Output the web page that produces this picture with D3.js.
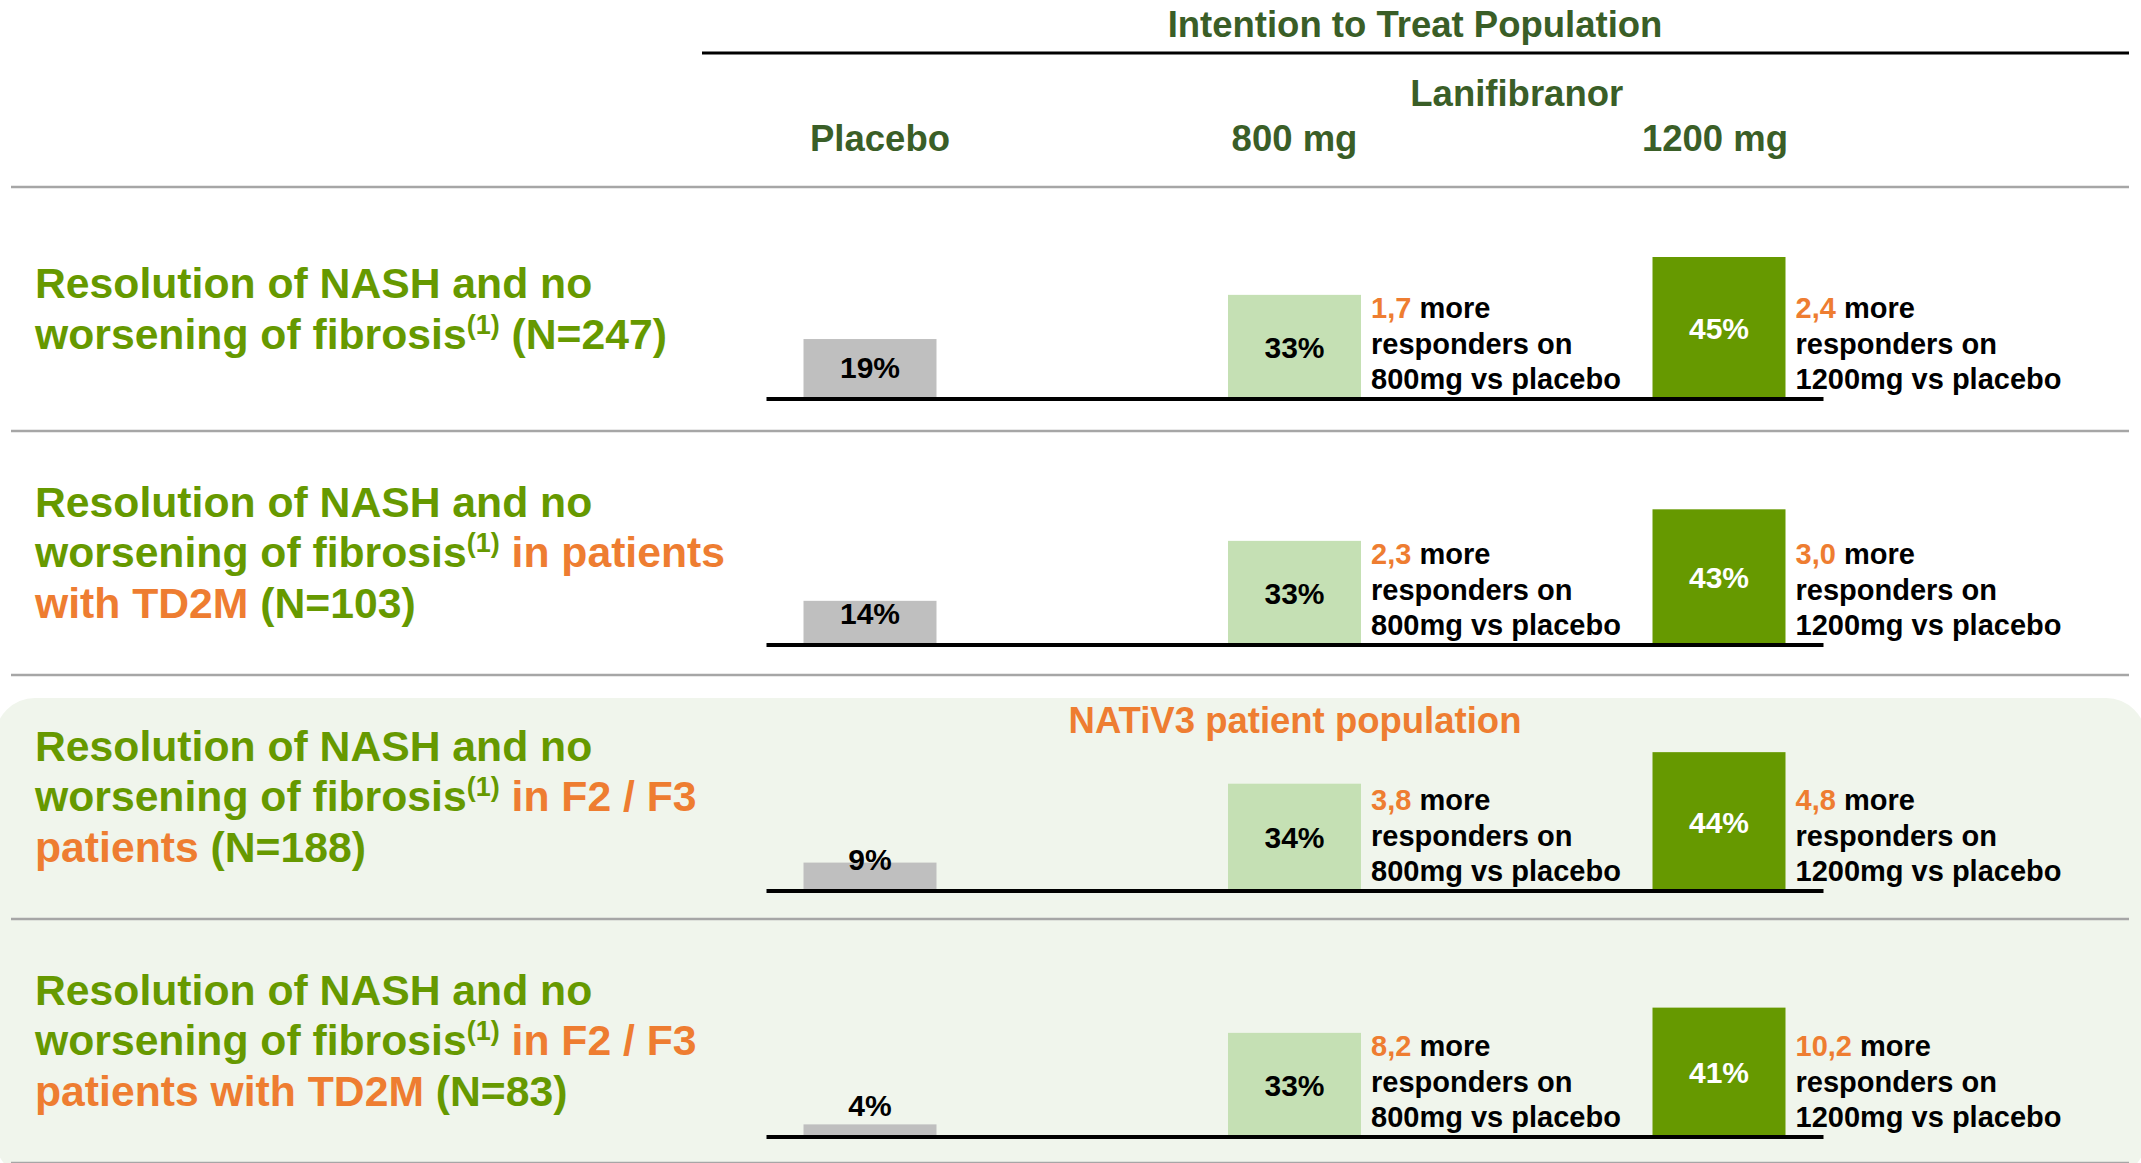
<!DOCTYPE html>
<html>
<head>
<meta charset="utf-8">
<script src="https://cdn.jsdelivr.net/npm/d3@7"></script>
<style>
  html, body { margin: 0; padding: 0; background: #ffffff; }
  svg { display: block; font-family: "Liberation Sans", Arial, sans-serif; font-weight: bold; }
</style>
</head>
<body>
<svg id="chart" width="2141" height="1163"></svg>
<script>
// ---------------- DATA ----------------
const groups = ["Placebo", "800 mg", "1200 mg"];
const placeboVals = [19, 14, 9, 4];
const mg800Vals = [33, 33, 34, 33];
const mg1200Vals = [45, 43, 44, 41];
const ratio800 = ["1,7", "2,3", "3,8", "8,2"];
const ratio1200 = ["2,4", "3,0", "4,8", "10,2"];
const doseNames = ["800mg", "1200mg"];
const headerTitle = "Intention to Treat Population";
const drugName = "Lanifibranor";
const panelTitle = "NATiV3 patient population";
// row titles: lines of [kind, text]; g = green, o = orange, s = superscript
const rowTitles = [
  [[["g", "Resolution of NASH and no"]],
   [["g", "worsening of fibrosis"], ["s", "(1)"], ["g", " (N=247)"]]],
  [[["g", "Resolution of NASH and no"]],
   [["g", "worsening of fibrosis"], ["s", "(1)"], ["o", " in patients"]],
   [["o", "with TD2M"], ["g", " (N=103)"]]],
  [[["g", "Resolution of NASH and no"]],
   [["g", "worsening of fibrosis"], ["s", "(1)"], ["o", " in F2 / F3"]],
   [["o", "patients"], ["g", " (N=188)"]]],
  [[["g", "Resolution of NASH and no"]],
   [["g", "worsening of fibrosis"], ["s", "(1)"], ["o", " in F2 / F3"]],
   [["o", "patients with TD2M"], ["g", " (N=83)"]]]
];

// ---------------- STYLE ----------------
const C = {
  header: "#3A5E27", green: "#669900", orange: "#EE7D31",
  placebo: "#BFBFBF", light: "#C5E0B4", dark: "#669900",
  sep: "#A6A6A6", panel: "#F0F5EC"
};
const barColors = [C.placebo, C.light, C.dark];
const labelColors = ["#000", "#000", "#fff"];

const svg = d3.select("#chart");

// scales
const x = d3.scalePoint().domain(groups).range([870, 1719]);
const barW = 133;
const rowAxisY = d3.scaleLinear().domain([0, 3]).range([399, 1137]);
const rowTop = d3.scaleLinear().domain([0, 4]).range([187, 1163]);
const h = d3.scaleLinear().domain([0, 45]).range([0, 142]);

// panel background (NATiV3)
svg.append("rect")
  .attr("x", -5).attr("y", 698).attr("width", 2151).attr("height", 480)
  .attr("rx", 40).attr("ry", 40).attr("fill", C.panel);

// header
svg.append("text").attr("x", 1415).attr("y", 37).attr("text-anchor", "middle")
  .attr("font-size", 36.5).attr("fill", C.header).text(headerTitle);
svg.append("line").attr("x1", 702).attr("x2", 2129).attr("y1", 53).attr("y2", 53)
  .attr("stroke", "#000").attr("stroke-width", 3);
svg.append("text").attr("x", (x("800 mg") + x("1200 mg")) / 2 + 10).attr("y", 106)
  .attr("text-anchor", "middle").attr("font-size", 36.5).attr("fill", C.header).text(drugName);
svg.selectAll("text.grp").data(groups).enter().append("text").attr("class", "grp")
  .attr("x", (d, i) => x(d) + [10, 0, -4][i]).attr("y", 151)
  .attr("text-anchor", "middle").attr("font-size", 36.5).attr("fill", C.header).text(d => d);

// separators
svg.selectAll("line.sep").data(d3.range(5)).enter().append("line").attr("class", "sep")
  .attr("x1", 11).attr("x2", 2129)
  .attr("y1", d => rowTop(d)).attr("y2", d => rowTop(d))
  .attr("stroke", C.sep).attr("stroke-width", 2.5);

// panel title
svg.append("text").attr("x", 1295).attr("y", 733).attr("text-anchor", "middle")
  .attr("font-size", 36.5).attr("fill", C.orange).text(panelTitle);

// row titles
rowTitles.forEach((lines, i) => {
  const first = rowTop(i) + 162 - 25.5 * lines.length;
  lines.forEach((segs, k) => {
    const t = svg.append("text").attr("x", 35).attr("y", first + 50.5 * k)
      .attr("font-size", 42.7);
    let shifted = false;
    segs.forEach(([kind, txt]) => {
      const ts = t.append("tspan").text(txt);
      if (kind === "s") {
        ts.attr("font-size", 27).attr("dy", -15).attr("fill", C.green);
        shifted = true;
      } else {
        ts.attr("fill", kind === "o" ? C.orange : C.green);
        if (shifted) { ts.attr("dy", 15); shifted = false; }
      }
    });
  });
});

// bars
const rows = placeboVals.map((p, i) => ({ i, vals: [p, mg800Vals[i], mg1200Vals[i]] }));
rows.forEach(r => {
  const axisY = rowAxisY(r.i);
  const g = svg.append("g");
  const cells = r.vals.map((v, j) => ({ v, j, grp: groups[j] }));
  g.selectAll("rect").data(cells).enter().append("rect")
    .attr("x", d => x(d.grp) - barW / 2)
    .attr("y", d => axisY - h(d.v))
    .attr("width", barW)
    .attr("height", d => h(d.v))
    .attr("fill", d => barColors[d.j]);
  g.selectAll("text.val").data(cells).enter().append("text").attr("class", "val")
    .attr("x", d => x(d.grp))
    .attr("y", d => Math.min(axisY - h(d.v) / 2 + 11, axisY - 21))
    .attr("text-anchor", "middle").attr("font-size", 30)
    .attr("fill", d => labelColors[d.j]).text(d => d.v + "%");
  // axis baseline
  g.append("line")
    .attr("x1", x(groups[0]) - barW / 2 - 37).attr("x2", x(groups[2]) + barW / 2 + 38)
    .attr("y1", axisY).attr("y2", axisY).attr("stroke", "#000").attr("stroke-width", 4);
  // annotations
  [ratio800[r.i], ratio1200[r.i]].forEach((ratio, k) => {
    const ax = x(groups[k + 1]) + barW / 2 + 10;
    const t1 = g.append("text").attr("x", ax).attr("y", axisY - 81).attr("font-size", 29);
    t1.append("tspan").attr("fill", C.orange).text(ratio);
    t1.append("tspan").attr("fill", "#000").text(" more");
    g.append("text").attr("x", ax).attr("y", axisY - 45.5).attr("font-size", 29)
      .attr("fill", "#000").text("responders on");
    g.append("text").attr("x", ax).attr("y", axisY - 10).attr("font-size", 29)
      .attr("fill", "#000").text(doseNames[k] + " vs placebo");
  });
});
</script>
</body>
</html>
